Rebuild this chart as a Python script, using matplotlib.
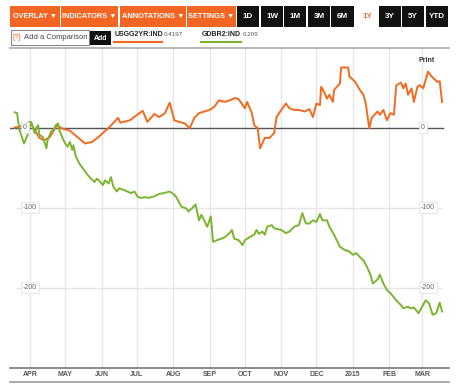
import matplotlib
matplotlib.use('Agg')
import matplotlib.pyplot as plt
import pandas as pd
from matplotlib.patches import Rectangle
from matplotlib.lines import Line2D

plt.rcParams['font.family'] = ['Liberation Sans', 'DejaVu Sans']

# USGG2YR:IND (orange) - change in bp
us_dates = ['2014-03-19', '2014-03-23', '2014-04-01', '2014-04-09', '2014-04-13', '2014-04-18',
            '2014-04-24', '2014-04-28', '2014-05-05', '2014-05-18', '2014-05-24', '2014-05-30',
            '2014-06-08', '2014-06-15', '2014-06-17', '2014-06-25', '2014-07-06', '2014-07-10',
            '2014-07-16', '2014-07-20', '2014-07-25', '2014-07-29', '2014-08-02', '2014-08-06',
            '2014-08-11', '2014-08-15', '2014-08-19', '2014-08-23', '2014-09-01', '2014-09-05',
            '2014-09-09', '2014-09-14', '2014-09-18', '2014-09-23', '2014-09-26', '2014-10-01',
            '2014-10-03', '2014-10-07', '2014-10-09', '2014-10-12', '2014-10-14', '2014-10-18',
            '2014-10-22', '2014-10-26', '2014-10-28', '2014-11-01', '2014-11-05', '2014-11-08',
            '2014-11-12', '2014-11-16', '2014-11-21', '2014-11-25', '2014-11-28', '2014-12-01',
            '2014-12-04', '2014-12-05', '2014-12-08', '2014-12-10', '2014-12-12', '2014-12-15',
            '2014-12-16', '2014-12-21', '2014-12-22', '2014-12-28', '2014-12-29', '2015-01-03',
            '2015-01-07', '2015-01-10', '2015-01-12', '2015-01-15', '2015-01-17', '2015-01-22',
            '2015-01-24', '2015-01-27', '2015-01-30', '2015-02-02', '2015-02-05', '2015-02-07',
            '2015-02-11', '2015-02-13', '2015-02-15', '2015-02-17', '2015-02-20', '2015-02-22',
            '2015-02-25', '2015-02-27', '2015-03-02', '2015-03-06', '2015-03-09', '2015-03-14',
            '2015-03-16', '2015-03-18']
us_values = [0, 1, 7, -13, -16, -12,
             3, -1, -4, -20, -18, -11,
             1, 12, 6, 9, 21, 7,
             17, 13, 18, 31, 9, 7,
             5, -1, 12, 18, 22, 26,
             34, 32, 34, 37, 35, 24,
             32, 18, 3, -1, -26, -13,
             -13, -7, 13, 22, 30, 24,
             22, 22, 20, 23, 13, 30,
             28, 51, 43, 36, 41, 32,
             47, 55, 75, 75, 64, 57,
             47, 41, 30, -1, 12, 20,
             16, 22, 9, 18, 16, 53,
             56, 49, 55, 41, 49, 32,
             51, 53, 49, 70, 64, 57,
             58, 32]

# GDBR2:IND (green)
de_dates = ['2014-03-19', '2014-03-21', '2014-03-23', '2014-03-27', '2014-03-30', '2014-04-02',
            '2014-04-03', '2014-04-05', '2014-04-07', '2014-04-08', '2014-04-09', '2014-04-12',
            '2014-04-15', '2014-04-16', '2014-04-19', '2014-04-21', '2014-04-23', '2014-04-25',
            '2014-04-26', '2014-04-29', '2014-05-01', '2014-05-03', '2014-05-05', '2014-05-07',
            '2014-05-08', '2014-05-10', '2014-05-13', '2014-05-17', '2014-05-20', '2014-05-23',
            '2014-05-26', '2014-05-28', '2014-05-31', '2014-06-02', '2014-06-04', '2014-06-07',
            '2014-06-09', '2014-06-11', '2014-06-14', '2014-06-16', '2014-06-20', '2014-06-23',
            '2014-06-26', '2014-06-29', '2014-07-02', '2014-07-05', '2014-07-08', '2014-07-11',
            '2014-07-16', '2014-07-20', '2014-07-24', '2014-07-29', '2014-08-02', '2014-08-04',
            '2014-08-08', '2014-08-12', '2014-08-14', '2014-08-17', '2014-08-20', '2014-08-23',
            '2014-08-25', '2014-08-28', '2014-08-30', '2014-09-02', '2014-09-04', '2014-09-07',
            '2014-09-11', '2014-09-14', '2014-09-18', '2014-09-20', '2014-09-22', '2014-09-26',
            '2014-09-29', '2014-10-01', '2014-10-05', '2014-10-09', '2014-10-11', '2014-10-13',
            '2014-10-16', '2014-10-18', '2014-10-20', '2014-10-24', '2014-10-26', '2014-10-29',
            '2014-11-01', '2014-11-05', '2014-11-08', '2014-11-12', '2014-11-16', '2014-11-19',
            '2014-11-22', '2014-11-25', '2014-11-28', '2014-12-01', '2014-12-04', '2014-12-06',
            '2014-12-10', '2014-12-12', '2014-12-16', '2014-12-21', '2014-12-25', '2014-12-29',
            '2015-01-01', '2015-01-04', '2015-01-07', '2015-01-10', '2015-01-13', '2015-01-16',
            '2015-01-18', '2015-01-22', '2015-01-24', '2015-01-27', '2015-01-30', '2015-02-02',
            '2015-02-07', '2015-02-11', '2015-02-13', '2015-02-17', '2015-02-19', '2015-02-22',
            '2015-02-26', '2015-03-01', '2015-03-04', '2015-03-07', '2015-03-10', '2015-03-13',
            '2015-03-16', '2015-03-18']
de_values = [19, 18, -3, -20, -9, 7,
             3, -7, 1, 3, -9, -12,
             -26, -16, -5, -3, 3, 5,
             -3, -14, -20, -24, -18, -28,
             -22, -36, -45, -53, -59, -64,
             -68, -64, -68, -72, -66, -70,
             -62, -74, -80, -76, -78, -80,
             -82, -80, -87, -88, -87, -88,
             -86, -83, -82, -80, -84, -88,
             -99, -101, -105, -101, -96, -116,
             -109, -118, -124, -111, -143, -141,
             -139, -137, -132, -128, -139, -141,
             -147, -141, -137, -134, -128, -133,
             -130, -134, -124, -122, -126, -127,
             -128, -132, -130, -124, -122, -107,
             -120, -120, -116, -118, -108, -116,
             -116, -124, -134, -149, -153, -155,
             -159, -157, -162, -166, -174, -184,
             -195, -190, -184, -195, -203, -207,
             -216, -222, -226, -224, -226, -225,
             -232, -224, -216, -220, -234, -232,
             -219, -230]

month_ticks = ['2014-04-01', '2014-05-01', '2014-06-01', '2014-07-01', '2014-08-01', '2014-09-01',
               '2014-10-01', '2014-11-01', '2014-12-01', '2015-01-01', '2015-02-01', '2015-03-01']
month_labels = ['APR', 'MAY', 'JUN', 'JUL', 'AUG', 'SEP', 'OCT', 'NOV', 'DEC', '2015', 'FEB', 'MAR']
y_ticks = [0, -100, -200]

orange = '#f26a1f'
green = '#7ab532'

W, H = 460, 386
fig = plt.figure(figsize=(W / 100, H / 100), dpi=100)


def fx(x):
    return x / W


def fy(y):
    return 1 - y / H


# plot area
ax = fig.add_axes([fx(10), fy(368), fx(449) - fx(10), fy(48) - fy(368)])
base = pd.Timestamp('2014-04-01')
ax.set_xlim(base + pd.Timedelta(days=-17.0), base + pd.Timedelta(days=356.9))
ax.set_ylim(-300.6, 99.4)
for s in ax.spines.values():
    s.set_visible(False)

ticks = pd.to_datetime(month_ticks)
for t in ticks:
    ax.axvline(t, color='#e6e6e6', lw=1, zorder=0)
for v in y_ticks[1:]:
    ax.axhline(v, xmin=7 / 439, xmax=431 / 439, color='#e6e6e6', lw=1, zorder=0)
ax.axhline(0, xmin=0, xmax=433 / 439, color='#555555', lw=1, zorder=1)

ax.plot(pd.to_datetime(us_dates), us_values, color=orange, lw=1.4, zorder=3)
ax.plot(pd.to_datetime(de_dates), de_values, color=green, lw=1.4, zorder=3)

ax.set_xticks(ticks)
ax.set_xticklabels(month_labels, fontsize=5, color='#555555', fontweight='bold')
ax.tick_params(axis='x', length=0, pad=2.5)
ax.set_yticks([])

box = dict(boxstyle='square,pad=0.25', fc='white', ec='#dddddd', lw=0.5)
for v in y_ticks:
    ax.text(13 / 439, v, str(v), fontsize=5, color='#666666', ha='left', va='center',
            transform=ax.get_yaxis_transform(), bbox=box, zorder=4)
    ax.text(411 / 439, v, str(v), fontsize=5, color='#666666', ha='left', va='center',
            transform=ax.get_yaxis_transform(), bbox=box, zorder=4)

fig.text(fx(427), fy(61), 'Print', fontsize=5, fontweight='bold', color='#333333',
         ha='center', va='center')

# frame lines
for y, c in [(48, '#aaaaaa'), (368, '#777777'), (382, '#999999')]:
    fig.add_artist(Line2D([fx(10), fx(449)], [fy(y), fy(y)], color=c, lw=1.2))


# toolbar
def button(x0, x1, color, label, txt='white', size=5.3):
    fig.add_artist(Rectangle((fx(x0), fy(27)), fx(x1) - fx(x0), fy(6) - fy(27),
                             transform=fig.transFigure, fc=color, ec='none'))
    fig.text(fx((x0 + x1) / 2), fy(16.5), label, fontsize=size, fontweight='bold',
             color=txt, ha='center', va='center')


for x0, x1, lab in [(10, 60, 'OVERLAY \u25bc'), (61, 118, 'INDICATORS \u25bc'),
                    (120, 186, 'ANNOTATIONS \u25bc'), (187, 236, 'SETTINGS \u25bc')]:
    button(x0, x1, '#f26522', lab)
for x0, x1, lab in [(237, 259, '1D'), (261, 283, '1W'), (284, 306, '1M'), (308, 330, '3M'),
                    (331, 354, '6M'), (379, 401, '3Y'), (402, 424, '5Y'), (426, 448, 'YTD')]:
    button(x0, x1, '#111111', lab, size=5.8)
fig.text(fx(367), fy(16.5), '1Y', fontsize=5.8, fontweight='bold', color=orange,
         ha='center', va='center')

# comparison row
fig.add_artist(Rectangle((fx(11), fy(45)), fx(89) - fx(11), fy(30) - fy(45),
                         transform=fig.transFigure, fc='white', ec='#888888', lw=0.8))
fig.text(fx(13), fy(37.5), '[?]', fontsize=5.5, color=orange, ha='left', va='center')
fig.text(fx(24), fy(37.5), 'Add a Comparison', fontsize=5.5, color='#444444', ha='left', va='center')
fig.add_artist(Rectangle((fx(90), fy(45)), fx(111) - fx(90), fy(31) - fy(45),
                         transform=fig.transFigure, fc='#111111', ec='none'))
fig.text(fx(100.5), fy(38), 'Add', fontsize=5, fontweight='bold', color='white', ha='center', va='center')

fig.text(fx(115), fy(35), 'USGG2YR:IND', fontsize=5, fontweight='bold', color='#222222',
         ha='left', va='center')
fig.text(fx(164), fy(35), '0.4197', fontsize=4.5, color='#555555', ha='left', va='center')
fig.add_artist(Line2D([fx(114), fx(162)], [fy(42), fy(42)], color=orange, lw=1.5))
fig.text(fx(202), fy(35), 'GDBR2:IND', fontsize=5, fontweight='bold', color='#222222',
         ha='left', va='center')
fig.text(fx(243), fy(35), '0.209', fontsize=4.5, color='#555555', ha='left', va='center')
fig.add_artist(Line2D([fx(201), fx(241)], [fy(42), fy(42)], color=green, lw=1.5))

fig.savefig('out.png', dpi=100)
